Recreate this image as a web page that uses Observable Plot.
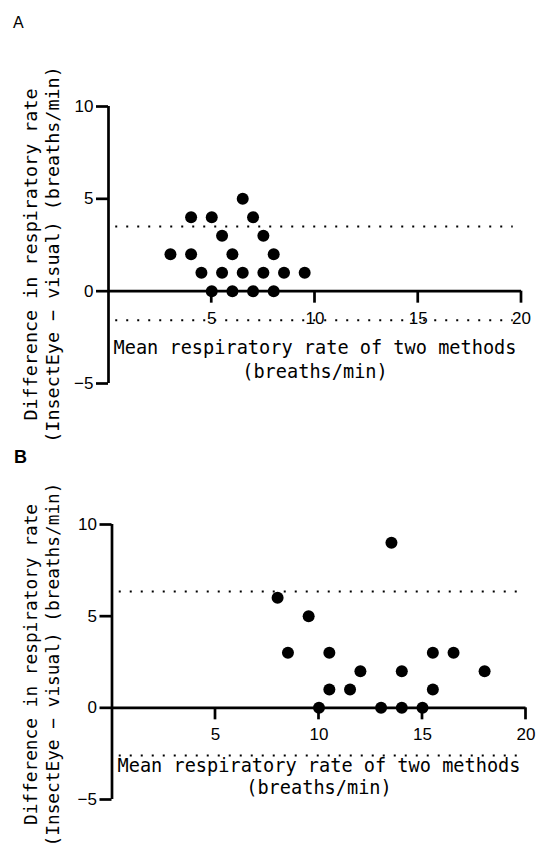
<!DOCTYPE html>
<html>
<head>
<meta charset="utf-8">
<script src="https://cdn.jsdelivr.net/npm/d3@7"></script>
<script src="https://cdn.jsdelivr.net/npm/@observablehq/plot@0.6"></script>
<style>
  body { margin: 0; background: #fff; }
  .panel { position: relative; width: 550px; }
  .panel svg { display: block; }
  .lbl { position: absolute; font-family: "Liberation Sans", Arial, sans-serif; color: #000; line-height: 1; }
</style>
</head>
<body>
<div id="pA" class="panel"><div class="lbl" style="left:13px;top:15px;font-size:16px;">A</div></div>
<div id="pB" class="panel"><div class="lbl" style="left:14px;top:3px;font-size:18px;font-weight:bold;">B</div></div>
<script>
// ---- data ----
const xTicks = [5, 10, 15, 20];
const yTicks = [-5, 0, 5, 10];

const aMean = [6.5, 4, 5, 7, 5.5, 7.5, 3, 4, 6, 8, 4.5, 5.5, 6.5, 7.5, 8.5, 9.5, 5, 6, 7, 8];
const aDiff = [5, 4, 4, 4, 3, 3, 2, 2, 2, 2, 1, 1, 1, 1, 1, 1, 0, 0, 0, 0];
const aLimits = [3.5, -1.58];

const bMean = [13.5, 8, 9.5, 8.5, 10.5, 15.5, 16.5, 12, 14, 18, 10.5, 11.5, 15.5, 10, 13, 14, 15];
const bDiff = [9, 6, 5, 3, 3, 3, 3, 2, 2, 2, 1, 1, 1, 0, 0, 0, 0];
const bLimits = [6.35, -2.6];

const xTitle = "Mean respiratory rate of two methods\n(breaths/min)";
const yTitle = "Difference in respiratory rate\n(InsectEye \u2212 visual) (breaths/min)";

const sans = "'Liberation Sans', Arial, sans-serif";
const mono = "'DejaVu Sans Mono', monospace";

function panel(cfg) {
  const data = cfg.xs.map((x, i) => ({x, y: cfg.ys[i]}));
  const lw = 2.7;
  const yDomain = [-5, 10], xDomain = [0, 20];
  const pxY = (cfg.height - cfg.mt - cfg.mb) / (yDomain[1] - yDomain[0]);
  const pxX = (550 - cfg.ml - cfg.mr) / (xDomain[1] - xDomain[0]);
  // 12px-long, lw-wide downward tick marks expressed in scale units
  const tickLen = 12 / pxY, halfW = lw / 2 / pxX;
  const tickRows = xTicks.map(v => ({v, left: v - halfW, right: v + halfW, top: 0, bottom: -tickLen}));
  return Plot.plot({
    width: 550,
    height: cfg.height,
    marginTop: cfg.mt, marginBottom: cfg.mb, marginLeft: cfg.ml, marginRight: cfg.mr,
    x: {domain: xDomain, axis: null},
    y: {domain: yDomain, axis: null},
    style: {background: "transparent", color: "black", fontFamily: sans, overflow: "visible"},
    marks: [
      Plot.ruleY(cfg.limits, {x1: 0.35, x2: 19.6, stroke: "black", strokeWidth: 2, strokeDasharray: "2,9"}),
      Plot.ruleY([0], {x1: 0, x2: 20, stroke: "black", strokeWidth: lw}),
      Plot.rect(tickRows, {x1: "left", x2: "right", y1: "bottom", y2: "top", fill: "black"}),
      Plot.text(xTicks, {x: d => d, y: 0, dy: 27, text: d => String(d), fontSize: 17, fontFamily: sans, lineAnchor: "middle", fill: "black"}),
      Plot.ruleX([0], {y1: -5, y2: 10, stroke: "black", strokeWidth: lw}),
      Plot.axisY({ticks: yTicks, anchor: "left", tickSize: 12, tickPadding: 3, fontSize: 17, strokeWidth: lw, label: null, fontFamily: sans}),
      Plot.dot(data, {x: "x", y: "y", r: 6, fill: "black", stroke: "none"}),
      Plot.text([xTitle], {frameAnchor: "bottom", dy: cfg.xTitleDy, text: d => d, fontFamily: mono, fontSize: 18.6, lineHeight: cfg.xLh, lineAnchor: "middle", textAnchor: "middle", fill: "black"}),
      Plot.text([yTitle], {frameAnchor: "left", rotate: -90, dx: cfg.yTitleDx, dy: cfg.yTitleDy, text: d => d, fontFamily: mono, fontSize: cfg.yFs, lineHeight: 22.5 / cfg.yFs, lineAnchor: "middle", textAnchor: "middle", fill: "black"})
    ]
  });
}

document.getElementById("pA").appendChild(panel({
  xs: aMean, ys: aDiff, limits: aLimits,
  height: 445, mt: 106, mb: 62, ml: 108, mr: 29,
  xTitleDy: -25, xLh: 1.25, yTitleDx: -67.6, yTitleDy: 9.5, yFs: 18.4
}));
document.getElementById("pB").appendChild(panel({
  xs: bMean, ys: bDiff, limits: bLimits,
  height: 413, mt: 79, mb: 59, ml: 111.5, mr: 24.5,
  xTitleDy: -23.2, xLh: 1.17, yTitleDx: -71.1, yTitleDy: 2.5, yFs: 17.8
}));
</script>
</body>
</html>
